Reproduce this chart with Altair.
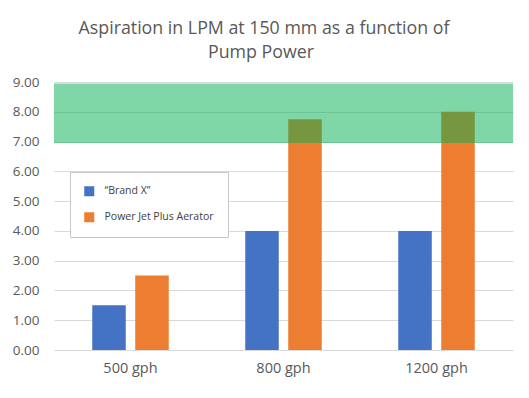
import altair as alt
import pandas as pd

categories = ["500 gph", "800 gph", "1200 gph"]
series_names = ["\u201cBrand X\u201d", "Power Jet Plus Aerator"]
brand_x = [1.5, 4.0, 4.0]
power_jet = [2.5, 7.75, 8.0]
band_low = [6.95]
band_high = [8.95]
y_ticks = [0, 1, 2, 3, 4, 5, 6, 7, 8, 9]
title_lines = ["Aspiration in LPM at 150 mm as a function of", "Pump Power"]

rows = []
for c, a, b in zip(categories, brand_x, power_jet):
    rows.append({"cat": c, "series": series_names[0], "value": a})
    rows.append({"cat": c, "series": series_names[1], "value": b})
df = pd.DataFrame(rows)
band_df = pd.DataFrame({"lo": band_low, "hi": band_high})
one = pd.DataFrame({"k": [0]})

FONT = "Open Sans"
GREY = "#595959"

y_axis = alt.Axis(values=y_ticks, format=".2f", labelFontSize=13.5,
                  labelColor=GREY, labelFont=FONT, ticks=False,
                  domain=False, labelPadding=15, gridColor="#D9D9D9",
                  labelOverlap=False, title=None)
y_scale = alt.Scale(domain=[0, 9], nice=False)

bars = alt.Chart(df).mark_bar().encode(
    x=alt.X("cat:N", sort=categories, title=None,
            scale=alt.Scale(paddingInner=0.5, paddingOuter=0.25),
            axis=alt.Axis(labelAngle=0, labelFontSize=14.5, labelColor=GREY,
                          labelFont=FONT, ticks=False, domain=False, labelPadding=11)),
    xOffset=alt.XOffset("series:N", sort=series_names,
                        scale=alt.Scale(paddingInner=0.22)),
    y=alt.Y("value:Q", title=None, scale=y_scale, axis=y_axis),
    color=alt.Color("series:N", sort=series_names,
                    scale=alt.Scale(domain=series_names, range=["#4472C4", "#ED7D31"]),
                    legend=alt.Legend(title=None, orient="none", legendX=16, legendY=90,
                                      symbolType="square", symbolSize=100,
                                      symbolStrokeWidth=0,
                                      labelFontSize=10.5, labelColor="#404040",
                                      labelFont=FONT, rowPadding=15, padding=14,
                                      labelOffset=10,
                                      fillColor="white", strokeColor="#C8C8C8")),
)

band = alt.Chart(band_df).mark_rect(color="#00B050", opacity=0.5).encode(
    y=alt.Y("lo:Q", title=None, scale=y_scale, axis=y_axis), y2="hi:Q"
)

title1 = alt.Chart(one).mark_text(
    text=title_lines[0], font=FONT, fontSize=17.8, color=GREY,
    align="center", baseline="alphabetic"
).encode(x=alt.value(210), y=alt.value(-48))

title2 = alt.Chart(one).mark_text(
    text=title_lines[1], font=FONT, fontSize=17.8, color=GREY,
    align="center", baseline="alphabetic"
).encode(x=alt.value(207), y=alt.value(-24))

chart = alt.layer(bars, band, title1, title2).properties(
    width=459, height=268,
    padding={"left": 46, "top": 74, "right": 8, "bottom": 30},
    autosize=alt.AutoSizeParams(type="none"),
).configure_view(stroke=None)

chart.save("out.html", embed_options={"renderer": "svg", "actions": False})
